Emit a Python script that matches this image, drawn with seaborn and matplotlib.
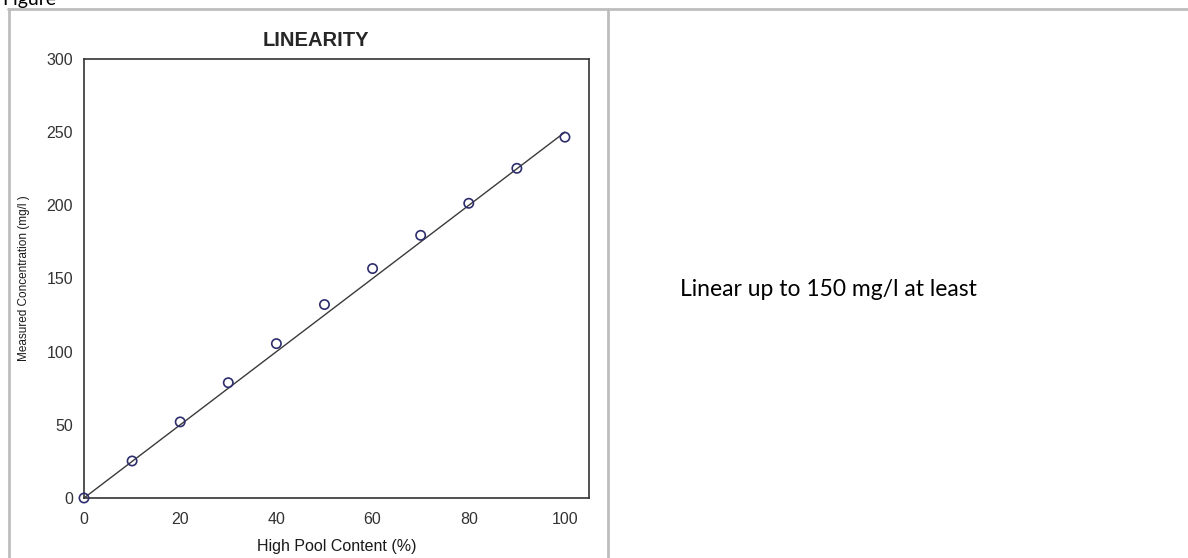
import matplotlib
matplotlib.use("Agg")
import matplotlib.pyplot as plt
from matplotlib.lines import Line2D
import seaborn as sns
import pandas as pd

# data
pool_content = [0, 10, 20, 30, 40, 50, 60, 70, 80, 90, 100]
measured = [0, 25.3, 52, 78.8, 105.5, 132.2, 156.8, 179.5, 201.4, 225.3, 246.6]
fit_x = [0, 100]
fit_y = [0, 250]
x_ticks = [0, 20, 40, 60, 80, 100]
y_ticks = [0, 50, 100, 150, 200, 250, 300]

sns.set_theme(style="white")
plt.rcParams['font.family'] = ['Liberation Sans', 'DejaVu Sans']

df = pd.DataFrame({"x": pool_content, "y": measured})
fit = pd.DataFrame({"x": fit_x, "y": fit_y})

fig = plt.figure(figsize=(11.88, 5.58), dpi=100)
ax = fig.add_axes([84 / 1188, 1 - 498 / 558, (589 - 84) / 1188, (498 - 59) / 558])

sns.lineplot(data=fit, x="x", y="y", ax=ax, color="#3a3a3a", linewidth=1.0)
sns.scatterplot(data=df, x="x", y="y", ax=ax, marker="o", s=45,
                facecolor="none", edgecolor="#2e2e6e", linewidth=1.2, zorder=3,
                clip_on=False)

ax.set_xlim(0, 105)
ax.set_ylim(0, 300)
ax.set_xticks(x_ticks)
ax.set_yticks(y_ticks)
ax.tick_params(direction="in", length=4, width=0.8, colors="#222222",
               labelcolor="#333333", labelsize=11.5, pad=8)
ax.tick_params(axis="x", pad=10)
for s in ax.spines.values():
    s.set_color("#333333")
    s.set_linewidth(1.2)

ax.set_xlabel("High Pool Content (%)", fontsize=11.5, color="#1a1a1a", labelpad=9)
ax.set_ylabel("Measured Concentration (mg/l )", fontsize=8.5, color="#1a1a1a", labelpad=12)
ax.set_title("LINEARITY", fontsize=14.5, fontweight="bold", x=0.46, pad=9)

# table borders around the figure cell
border = "#bdbdbd"
fig.add_artist(Line2D([8 / 1188, 1], [1 - 8.5 / 558, 1 - 8.5 / 558], color=border, lw=2,
                      transform=fig.transFigure))
fig.add_artist(Line2D([8.5 / 1188, 8.5 / 1188], [0, 1 - 8.5 / 558], color=border, lw=2,
                      transform=fig.transFigure))
fig.add_artist(Line2D([608 / 1188, 608 / 1188], [0, 1 - 8.5 / 558], color=border, lw=2,
                      transform=fig.transFigure))

fig.text(0.002, 1 - 5 / 558, "Figure", fontsize=14, family=["Lato", "DejaVu Sans"],
         va="baseline", ha="left", color="black")
fig.text(680 / 1188, 1 - 290 / 558, "Linear up to 150 mg/l at least", fontsize=16.5,
         family=["Lato", "DejaVu Sans"], va="center", ha="left", color="black")

fig.savefig("out.png", dpi=100)
